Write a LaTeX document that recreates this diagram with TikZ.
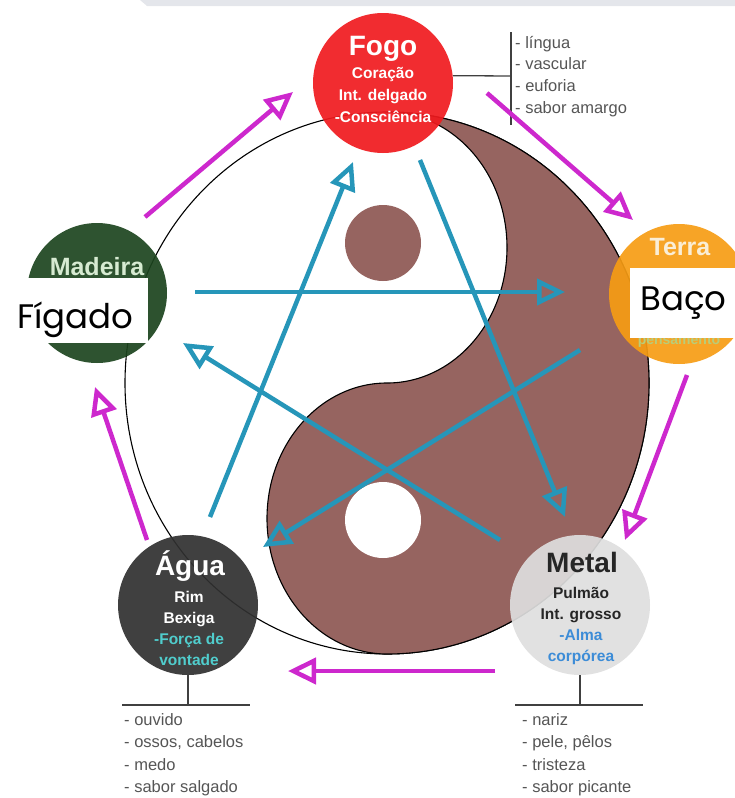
\documentclass[tikz,border=0pt]{standalone}
\usepackage{fontspec}
\setmainfont{Liberation Sans}
\newfontfamily\boxfont{Poppins}
\usetikzlibrary{arrows.meta}

\definecolor{fogored}{RGB}{240,26,30}
\definecolor{terraorange}{RGB}{246,156,20}
\definecolor{madeiragreen}{RGB}{28,68,30}
\definecolor{aguagray}{RGB}{48,48,48}
\definecolor{metalgray}{RGB}{222,222,222}
\definecolor{yybrown}{RGB}{150,100,96}
\definecolor{genpink}{RGB}{205,40,205}
\definecolor{ctrlteal}{RGB}{38,150,185}
\definecolor{aguacyan}{RGB}{80,205,205}
\definecolor{metalblue}{RGB}{60,140,215}
\definecolor{terragreen}{RGB}{185,205,120}
\definecolor{listgray}{RGB}{85,85,85}
\definecolor{topgray}{RGB}{228,230,235}

\tikzset{
  elem/.style={circle, minimum size=140pt, inner sep=0pt, fill opacity=0.92},
  elemtitle/.style={anchor=base, inner sep=0pt, text=white, font=\bfseries\fontsize{28}{30}\selectfont},
  elemorgan/.style={anchor=base, inner sep=0pt, text=white, font=\bfseries\fontsize{15.5}{18}\selectfont},
  listitem/.style={anchor=base west, inner sep=0pt, text=listgray, font=\fontsize{16.5}{20}\selectfont},
  listbar/.style={draw=black!75, line width=1.3pt},
  gen/.style={genpink, line width=4.5pt, -{Triangle[open, length=28pt, width=26pt]}},
  ctrl/.style={ctrlteal, line width=4.5pt, -{Triangle[open, length=28pt, width=26pt]}},
  whitebox/.style={fill=white, inner sep=0pt, anchor=north west},
  boxtext/.style={anchor=base west, inner sep=0pt, font=\boxfont\fontsize{34}{36}\selectfont}
}

\begin{document}
\begin{tikzpicture}[x=1pt, y=-1pt]
\useasboundingbox (0,0) rectangle (735,798);
\fill[topgray] (140,0) -- (735,0) -- (735,6) -- (147,6) -- cycle;

% yin-yang
\draw[line width=1.1pt, fill=white] (387,383) ellipse [x radius=262pt, y radius=271pt];
\draw[line width=1.1pt, fill=yybrown] (387,112)
  arc[start angle=90, end angle=-90, x radius=262pt, y radius=271pt]
  arc[start angle=-90, end angle=-270, x radius=120pt, y radius=135.5pt]
  arc[start angle=-90, end angle=90, x radius=120pt, y radius=135.5pt] -- cycle;
\fill[yybrown] (383,243) circle (38pt);
\fill[white] (383,520) circle (38pt);

% arrow ends
\coordinate (k1a) at (420,160); \coordinate (k1b) at (565,517);
\coordinate (k2a) at (500,540); \coordinate (k2b) at (183,343);
\coordinate (k3a) at (195,292); \coordinate (k3b) at (565,292);
\coordinate (k4a) at (580,350); \coordinate (k4b) at (263,547);
\coordinate (k5a) at (210,517); \coordinate (k5b) at (353,162);
\coordinate (g1a) at (145,217); \coordinate (g1b) at (293,92);
\coordinate (g2a) at (487,93);  \coordinate (g2b) at (633,220);
\coordinate (g3a) at (687,375); \coordinate (g3b) at (625,540);
\coordinate (g4a) at (495,671); \coordinate (g4b) at (288,671);
\coordinate (g5a) at (147,540); \coordinate (g5b) at (95,387);

% control cycle
\foreach \k in {1,...,5}
  \draw[ctrl] (k\k a) -- (k\k b);

% elements
\node[elem, fill=fogored] (fogo) at (383,83) {};
\node[elem, fill=terraorange] (terra) at (679,294) {};
\node[elem, fill=madeiragreen] (madeira) at (97,293) {};
\node[elem, fill=aguagray] (agua) at (188,605) {};
\node[elem, fill=metalgray] (metal) at (580,605) {};

\node[elemtitle] (fogo-t) at (383,55) {Fogo};
\foreach \t [count=\i] in {Coração, Int. delgado, -Consciência}
  \node[elemorgan] (fogo-o\i) at (383,56+22*\i) {\t};
\node[elemtitle, text={rgb,255:red,250;green,238;blue,215}, font=\bfseries\fontsize{25}{28}\selectfont] (terra-t) at (680,255) {Terra};
\node[elemorgan, text=terragreen, font=\bfseries\fontsize{14}{16}\selectfont] (terra-o1) at (679,344) {pensamento};
\node[elemtitle, text={rgb,255:red,215;green,235;blue,210}, font=\bfseries\fontsize{25}{28}\selectfont] (madeira-t) at (97,275) {Madeira};
\node[elemtitle] (agua-t) at (190,575) {Água};
\foreach \t [count=\i] in {Rim, Bexiga, {\color{aguacyan}-Força de}, {\color{aguacyan}vontade}}
  \node[elemorgan] (agua-o\i) at (189,581+21*\i) {\t};
\node[elemtitle, text=black!85] (metal-t) at (582,572) {Metal};
\foreach \t [count=\i] in {Pulmão, Int. grosso, {\color{metalblue}-Alma}, {\color{metalblue}corpórea}}
  \node[elemorgan, text=black!85] (metal-o\i) at (581,577+21*\i) {\t};

% lists
\coordinate (fogo-up) at (511,32);
\coordinate (fogo-dn) at (511,125);
\coordinate (fogo-j) at (511,76);
\draw[listbar] (fogo-up) -- (fogo-dn);
\draw[listbar] (fogo.6) -- (fogo-j);
\foreach \t [count=\i] in {língua, vascular, euforia, sabor amargo}
  \node[listitem] (fogo-l\i) at (515,26.2+21.8*\i) {- \t};

\coordinate (agua-j) at (188,705);
\coordinate (agua-l) at (122,705);
\coordinate (agua-r) at (250,705);
\draw[listbar] (agua.south) -- (agua-j);
\draw[listbar] (agua-l) -- (agua-r);
\foreach \t [count=\i] in {ouvido, {ossos, cabelos}, medo, sabor salgado}
  \node[listitem] (agua-l\i) at (124,702.4+22.6*\i) {- \t};

\coordinate (metal-j) at (580,705);
\coordinate (metal-l) at (515,705);
\coordinate (metal-r) at (643,705);
\draw[listbar] (metal.south) -- (metal-j);
\draw[listbar] (metal-l) -- (metal-r);
\foreach \t [count=\i] in {nariz, {pele, pêlos}, tristeza, sabor picante}
  \node[listitem] (metal-l\i) at (522,702.4+22.6*\i) {- \t};

% generating cycle
\foreach \g in {1,...,5}
  \draw[gen] (g\g a) -- (g\g b);

% labels on top
\node[whitebox, minimum width=133pt, minimum height=65pt] (figado-box) at (15,278) {};
\node[boxtext] (figado) at (17,328) {Fígado};
\node[whitebox, minimum width=110pt, minimum height=70pt] (baco-box) at (630,268) {};
\node[boxtext] (baco) at (640,310) {Baço};
\end{tikzpicture}
\end{document}
